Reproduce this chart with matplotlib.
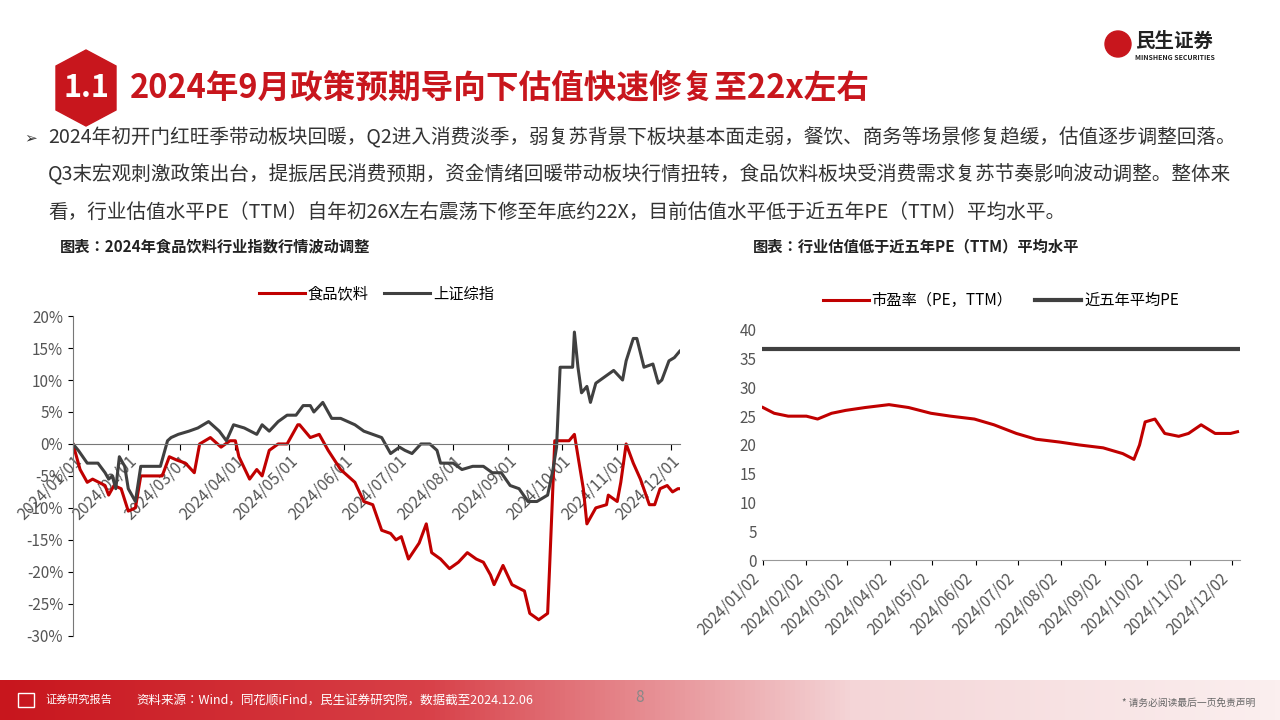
import matplotlib
matplotlib.use("Agg")
import matplotlib.pyplot as plt
import numpy as np
import pandas as pd
from matplotlib.patches import Polygon, Rectangle, Ellipse
from matplotlib.colors import LinearSegmentedColormap
from matplotlib import font_manager

names = {f.name for f in font_manager.fontManager.ttflist}
cjk = [n for n in ["Noto Sans CJK SC", "Noto Sans CJK JP", "Noto Sans CJK TC", "Noto Sans CJK KR"] if n in names]
plt.rcParams["font.family"] = "sans-serif"
plt.rcParams["font.sans-serif"] = cjk + ["DejaVu Sans"]
plt.rcParams["axes.unicode_minus"] = False

# ---------- data ----------
food_days = [0,4,8,11,18,20,23,27,31,35,38,50,54,58,63,68,71,77,83,88,91,93,99,103,106,110,115,120,126,127,133,138,143,150,158,163,168,173,178,181,184,188,194,198,201,206,211,216,221,226,230,234,236,241,246,253,256,261,266,267,270,273,278,281,286,288,293,299,300,305,307,310,314,318,323,326,329,333,336,339,340]
food_vals = [0,-4,-6,-5.5,-6.5,-8,-6.5,-7,-10.5,-10,-5,-5,-2,-2.5,-3,-4.5,0,1,-0.5,0.5,0.5,-2,-5.5,-4,-5,-1,0,0,3,3,1,1.5,-1,-4,-6,-9,-9.5,-13.5,-14,-15,-14.5,-18,-15.5,-12.5,-17,-18,-19.5,-18.5,-17,-18,-18.5,-20.5,-22,-19,-22,-23,-26.5,-27.5,-26.5,-20,0.5,0.5,0.5,1.5,-7,-12.5,-10,-9.5,-8,-9,-6,0,-3,-5.5,-9.5,-9.5,-7,-6.5,-7.5,-7,-7]
sh_days = [0,3,8,14,18,20,22,24,26,29,31,35,38,49,53,55,59,65,70,76,82,86,90,96,103,106,110,115,120,125,129,133,135,140,145,150,158,163,168,173,178,183,186,190,195,200,204,206,213,218,224,230,235,240,245,250,255,260,266,269,271,273,280,281,283,285,288,290,293,298,303,308,310,314,316,320,325,328,330,334,337,340]
sh_vals = [0,-1,-3,-3,-4.5,-5.5,-5,-7,-2,-3.5,-7,-9,-3.5,-3.5,0.5,1,1.5,2,2.5,3.5,2,0.5,3,2.5,1.5,3,2,3.5,4.5,4.5,6,6,5,6.5,4,4,3,2,1.5,1,-1.5,-0.5,-1,-1.5,0,0,-1,-3,-3,-4,-3.5,-3.5,-4.5,-4.5,-6.5,-7,-9,-9,-8,-4,-0.5,12,12,17.5,12,8,9,6.5,9.5,10.5,11.5,10,13,16.5,16.5,12,12.5,9.5,10,13,13.5,14.5]
left_ticks = ["2024/01/01","2024/02/01","2024/03/01","2024/04/01","2024/05/01","2024/06/01",
              "2024/07/01","2024/08/01","2024/09/01","2024/10/01","2024/11/01","2024/12/01"]

pe_dates = ["2024-01-02","2024-01-10","2024-01-20","2024-02-02","2024-02-10","2024-02-20","2024-03-01","2024-03-15",
            "2024-04-01","2024-04-15","2024-05-01","2024-05-15","2024-06-01","2024-06-15","2024-07-01","2024-07-15",
            "2024-08-01","2024-08-15","2024-09-01","2024-09-15","2024-09-23","2024-09-27","2024-10-01","2024-10-08",
            "2024-10-15","2024-10-25","2024-11-01","2024-11-10","2024-11-20","2024-12-01","2024-12-06"]
pe_vals = [26.5,25.5,25,25,24.5,25.5,26,26.5,27,26.5,25.5,25,24.5,23.5,22,21,20.5,20,19.5,18.5,17.5,20,24,24.5,22,21.5,22,23.5,22,22,22.3]
pe_avg = 36.7
right_ticks = ["2024/01/02","2024/02/02","2024/03/02","2024/04/02","2024/05/02","2024/06/02",
               "2024/07/02","2024/08/02","2024/09/02","2024/10/02","2024/11/02","2024/12/02"]

RED = "#C00000"
GRAY = "#404040"
W, H = 1280, 720

fig = plt.figure(figsize=(12.8, 7.2), dpi=100)
fig.patch.set_facecolor("white")

def px(x, y):
    return (x / W, 1 - y / H)

# ---------- header ----------
badge = [(86, 50), (116, 66), (116, 110), (86, 126), (56, 110), (56, 66)]
fig.add_artist(Polygon([px(*p) for p in badge], closed=True, transform=fig.transFigure,
                       color="#C8161D"))
fig.text(*px(86, 88), "1.1", color="white", fontsize=22, fontweight="bold", ha="center", va="center")
fig.text(*px(130, 88), "2024年9月政策预期导向下估值快速修复至22x左右", color="#C8161D",
         fontsize=23.5, fontweight="bold", ha="left", va="center")
fig.add_artist(Ellipse(px(1118, 44), 26 / W, 26 / H, transform=fig.transFigure, color="#C8161D"))
fig.text(*px(1135, 41), "民生证券", fontsize=14, fontweight="bold", color="#222222", va="center")
fig.text(*px(1135, 58), "MINSHENG SECURITIES", fontsize=5, fontweight="bold", color="#222222", va="center")

body = ["2024年初开门红旺季带动板块回暖，Q2进入消费淡季，弱复苏背景下板块基本面走弱，餐饮、商务等场景修复趋缓，估值逐步调整回落。",
        "Q3末宏观刺激政策出台，提振居民消费预期，资金情绪回暖带动板块行情扭转，食品饮料板块受消费需求复苏节奏影响波动调整。整体来",
        "看，行业估值水平PE（TTM）自年初26X左右震荡下修至年底约22X，目前估值水平低于近五年PE（TTM）平均水平。"]
fig.text(*px(24, 138), "➢", fontsize=11, color="#333333", va="center", family="DejaVu Sans")
for i, s in enumerate(body):
    fig.text(*px(48, 138 + i * 37), s, fontsize=14.1, color="#333333", va="center")
fig.text(*px(60, 246), "图表：2024年食品饮料行业指数行情波动调整", fontsize=11, fontweight="bold", color="#222222", va="center")
fig.text(*px(753, 246), "图表：行业估值低于近五年PE（TTM）平均水平", fontsize=11, fontweight="bold", color="#222222", va="center")

# ---------- left chart ----------
base = pd.Timestamp("2024-01-01")
fd = base + pd.to_timedelta(food_days, unit="D")
sd = base + pd.to_timedelta(sh_days, unit="D")
ax = fig.add_axes([0.057, 0.117, 0.474, 0.444])
ax.plot(fd, np.array(food_vals) / 100, color=RED, lw=2.2, label="食品饮料")
ax.plot(sd, np.array(sh_vals) / 100, color=GRAY, lw=2.2, label="上证综指")
ax.set_ylim(-0.30, 0.20)
ax.set_xlim(base, pd.Timestamp("2024-12-06"))
yt = np.arange(-0.30, 0.201, 0.05)
ax.set_yticks(yt)
ax.set_yticklabels([f"{int(round(v * 100))}%" for v in yt], fontsize=11, color="#555555")
ax.spines["bottom"].set_position(("data", 0))
ax.spines["bottom"].set_color("#777777")
ax.spines["left"].set_color("#777777")
for sp in ["top", "right"]:
    ax.spines[sp].set_visible(False)
ax.set_xticks(pd.to_datetime([t.replace("/", "-") for t in left_ticks]))
ax.set_xticklabels(left_ticks, rotation=45, ha="right", va="top", rotation_mode="anchor",
                   fontsize=11.5, color="#555555")
ax.tick_params(axis="x", length=4, pad=2)
ax.legend(loc="lower center", bbox_to_anchor=(0.5, 1.0), ncol=2, frameon=False, fontsize=11,
          handlelength=3, columnspacing=1.0, handletextpad=0.2)

# ---------- right chart ----------
pdts = pd.to_datetime(pe_dates)
ax2 = fig.add_axes([0.595, 0.222, 0.374, 0.320])
ax2.plot(pdts, pe_vals, color=RED, lw=2.2, label="市盈率（PE，TTM）")
ax2.plot([pd.Timestamp("2024-01-02"), pd.Timestamp("2024-12-06")], [pe_avg, pe_avg], color=GRAY, lw=3, label="近五年平均PE")
ax2.set_ylim(0, 40)
ax2.set_xlim(pd.Timestamp("2024-01-01"), pd.Timestamp("2024-12-08"))
ax2.set_yticks(range(0, 41, 5))
ax2.tick_params(axis="y", labelsize=11, labelcolor="#555555", length=0)
ax2.set_xticks(pd.to_datetime([t.replace("/", "-") for t in right_ticks]))
ax2.set_xticklabels(right_ticks, rotation=45, ha="right", fontsize=11, color="#555555")
for sp in ["top", "right"]:
    ax2.spines[sp].set_visible(False)
ax2.spines["bottom"].set_color("#999999")
ax2.spines["left"].set_visible(False)
ax2.legend(loc="lower center", bbox_to_anchor=(0.5, 1.03), ncol=2, frameon=False, fontsize=11,
           handlelength=3, columnspacing=1.5, handletextpad=0.2)

# ---------- footer ----------
grad = np.linspace(0, 1, 256).reshape(1, -1)
fax = fig.add_axes([0, 0.0, 1, 0.056])
cmap = LinearSegmentedColormap.from_list("f", ["#C8161D", "#D84048", "#F4D5D7", "#FBEFEF"])
fax.imshow(grad, aspect="auto", cmap=cmap, extent=[0, 1, 0, 1])
fax.set_axis_off()
fig.text(*px(45, 700), "证券研究报告", fontsize=8, color="white", va="center")
fig.add_artist(Rectangle(px(18, 707), 16 / W, 14 / H, transform=fig.transFigure, fill=False, ec="white", lw=1))
fig.text(*px(136, 700), "资料来源：Wind，同花顺iFind，民生证券研究院，数据截至2024.12.06", fontsize=9, color="white", va="center")
fig.text(*px(640, 697), "8", fontsize=11, color="#888888", va="center", ha="center")
fig.text(*px(1255, 703), "* 请务必阅读最后一页免责声明", fontsize=7, color="#666666", va="center", ha="right")

fig.savefig("out.png", dpi=100)
